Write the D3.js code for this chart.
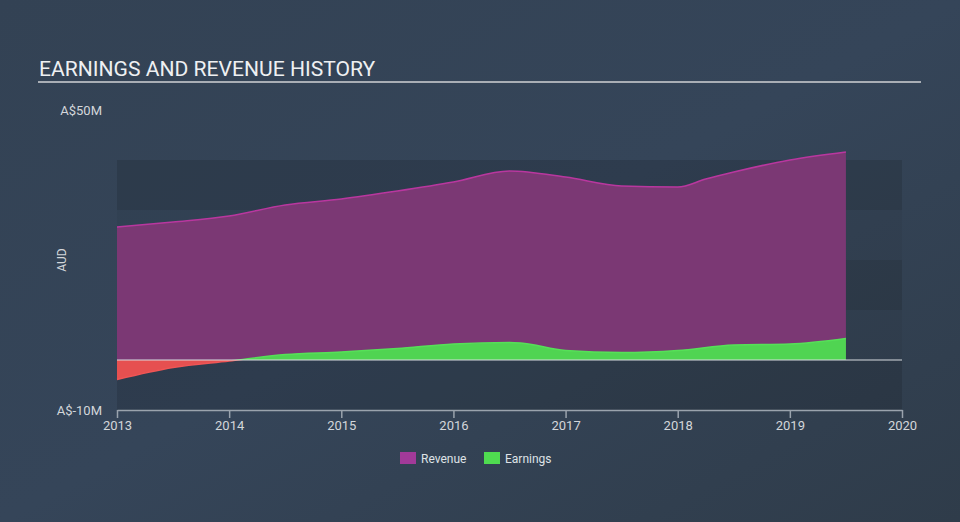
<!DOCTYPE html>
<html>
<head>
<meta charset="utf-8">
<script src="https://cdn.jsdelivr.net/npm/d3@7"></script>
<style>
html,body{margin:0;padding:0;background:#333f4f;}
svg{display:block;font-family:Roboto,"Open Sans",sans-serif;}
</style>
</head>
<body>
<svg id="chart" width="960" height="522"></svg>
<script>
// ---- data ----
const revenueDates = [2013.0, 2013.5, 2014.0, 2014.5, 2015.0, 2015.5, 2016.0, 2016.5, 2017.0, 2017.5, 2018.0, 2018.25, 2018.5, 2019.0, 2019.5];
const revenueValues = [26.6, 27.6, 28.8, 31.0, 32.2, 33.8, 35.6, 37.8, 36.6, 34.8, 34.6, 36.2, 37.6, 40.0, 41.6];
const earningsDates = [2013.0, 2013.5, 2014.0, 2014.5, 2015.0, 2015.5, 2016.0, 2016.5, 2016.6, 2017.0, 2017.5, 2018.0, 2018.5, 2019.0, 2019.5];
const earningsValues = [-3.9, -1.5, -0.2, 1.1, 1.6, 2.3, 3.2, 3.5, 3.4, 1.9, 1.5, 1.9, 3.0, 3.2, 4.3];
const xTicks = [2013, 2014, 2015, 2016, 2017, 2018, 2019, 2020];
const yTickValues = [50, -10];
const yTickLabels = ["A$50M", "A$-10M"];
const bandRanges = [[30, 40], [10, 20], [-10, 0]];
const legendItems = [{name: "Revenue", color: "#a23a99"}, {name: "Earnings", color: "#4fdb50"}];
const titleText = "EARNINGS AND REVENUE HISTORY";

// ---- layout ----
const svg = d3.select("#chart");
const W = 960, H = 522;
const x = d3.scaleLinear().domain([2013, 2020]).range([117, 902]);
const y = d3.scaleLinear().domain([-10, 50]).range([410, 110]);

const defs = svg.append("defs");
const bg = defs.append("linearGradient").attr("id", "bg").attr("x1", "0").attr("y1", "0").attr("x2", "1").attr("y2", "1");
bg.append("stop").attr("offset", "0%").attr("stop-color", "#334254");
bg.append("stop").attr("offset", "50%").attr("stop-color", "#354559");
bg.append("stop").attr("offset", "100%").attr("stop-color", "#2f3c4a");
svg.append("rect").attr("width", W).attr("height", H).attr("fill", "url(#bg)");

// plot background and bands
svg.append("rect").attr("x", x(2013)).attr("width", x(2020) - x(2013))
  .attr("y", y(40)).attr("height", y(-10) - y(40)).attr("fill", "#000").attr("opacity", 0.04);
svg.append("g").selectAll("rect").data(bandRanges).join("rect")
  .attr("x", x(2013)).attr("width", x(2020) - x(2013))
  .attr("y", d => y(d[1])).attr("height", d => y(d[0]) - y(d[1]))
  .attr("fill", "#000").attr("opacity", 0.08);

// title
svg.append("text").attr("x", 39).attr("y", 76).text(titleText)
  .attr("fill", "#eef0f2").attr("font-size", 21.1).attr("font-weight", 400);
svg.append("line").attr("x1", 38).attr("x2", 921).attr("y1", 82).attr("y2", 82)
  .attr("stroke", "#a9aeb5").attr("stroke-width", 2);

// revenue
const revData = revenueDates.map((d, i) => [d, revenueValues[i]]);
const area = d3.area().x(d => x(d[0])).y0(y(0)).y1(d => y(d[1])).curve(d3.curveMonotoneX);
const line = d3.line().x(d => x(d[0])).y(d => y(d[1])).curve(d3.curveMonotoneX);
svg.append("path").datum(revData).attr("d", area).attr("fill", "#7b3874");
svg.append("path").datum(revData).attr("d", line).attr("fill", "none").attr("stroke", "#b9379f").attr("stroke-width", 1.6);

// earnings
const earnData = earningsDates.map((d, i) => [d, earningsValues[i]]);
defs.append("clipPath").attr("id", "above").append("rect")
  .attr("x", 0).attr("y", 0).attr("width", W).attr("height", y(0));
defs.append("clipPath").attr("id", "below").append("rect")
  .attr("x", 0).attr("y", y(0)).attr("width", W).attr("height", H - y(0));
svg.append("path").datum(earnData).attr("d", area).attr("fill", "#50d452").attr("clip-path", "url(#above)");
svg.append("path").datum(earnData).attr("d", line).attr("fill", "none").attr("stroke", "#56e058").attr("stroke-width", 1.5).attr("clip-path", "url(#above)");
svg.append("path").datum(earnData).attr("d", area).attr("fill", "#e65050").attr("clip-path", "url(#below)");
svg.append("path").datum(earnData).attr("d", line).attr("fill", "none").attr("stroke", "#f05555").attr("stroke-width", 1.5).attr("clip-path", "url(#below)");

// zero line
svg.append("line").attr("x1", x(2013)).attr("x2", x(2020)).attr("y1", y(0)).attr("y2", y(0))
  .attr("stroke", "#d8dbe0").attr("stroke-width", 1.2);

// x axis
const xAxis = d3.axisBottom(x).tickValues(xTicks).tickFormat(d3.format("d")).tickSize(-8).tickSizeOuter(0);
const gx = svg.append("g").attr("transform", `translate(0,${y(-10)})`).call(xAxis);
gx.select(".domain").attr("stroke", "#9aa3ad").attr("stroke-width", 1.5);
gx.selectAll(".tick line").attr("stroke", "#9aa3ad").attr("stroke-width", 1.5).attr("y2", 8);
gx.selectAll(".tick text").attr("fill", "#d3d6da").attr("font-size", 13).attr("dy", 0).attr("y", 20)
  .attr("font-family", "Roboto, sans-serif");

// y labels
svg.append("g").selectAll("text").data(yTickValues).join("text")
  .attr("x", 102).attr("y", d => y(d) + 4.5).attr("text-anchor", "end")
  .attr("fill", "#d3d6da").attr("font-size", 13).text((d, i) => yTickLabels[i]);
svg.append("text").attr("transform", `translate(66,${y(20)}) rotate(-90)`)
  .attr("text-anchor", "middle").attr("fill", "#d3d6da").attr("font-size", 12).text("AUD");

// legend
const lg = svg.append("g").attr("transform", "translate(400,452)");
const li = lg.selectAll("g").data(legendItems).join("g").attr("transform", (d, i) => `translate(${i * 84},0)`);
li.append("rect").attr("width", 16).attr("height", 12).attr("fill", d => d.color);
li.append("text").attr("x", 21).attr("y", 10.5).attr("fill", "#dfe2e6").attr("font-size", 12).text(d => d.name);
</script>
</body>
</html>
